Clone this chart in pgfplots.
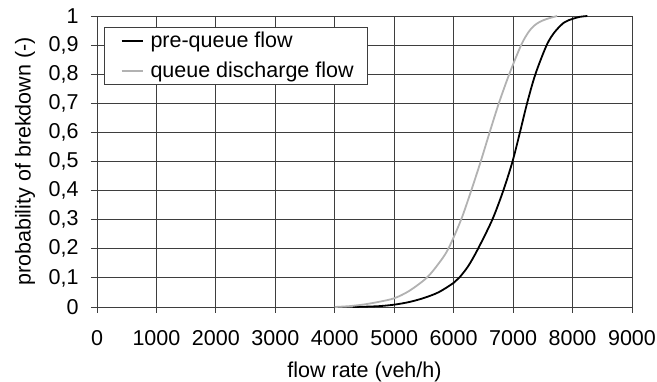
\documentclass[border=0pt]{standalone}
\usepackage{fontspec}
\setmainfont{Liberation Sans}
\usepackage{pgfplots}
\pgfplotsset{compat=1.18}

\definecolor{gridgray}{RGB}{62,62,62}
\definecolor{lightcurve}{RGB}{178,178,178}

\begin{document}
\begin{tikzpicture}[font=\fontsize{21.5}{25}\selectfont]
\path[use as bounding box] (-97pt,-75pt) rectangle (560pt,307pt);
\begin{axis}[
  at={(0pt,0pt)}, anchor=south west,
  scale only axis, width=535pt, height=291pt,
  xmin=0, xmax=9000, ymin=0, ymax=1,
  enlargelimits=false, clip=false,
  xtick={0,1000,2000,3000,4000,5000,6000,7000,8000,9000},
  ytick={0,0.1,0.2,0.3,0.4,0.5,0.6,0.7,0.8,0.9,1},
  scaled ticks=false,
  grid=major,
  grid style={gridgray, line width=0.9pt},
  axis line style={gridgray, line width=0.9pt},
  tick style={gridgray, line width=0.9pt},
  tick align=outside, tick pos=left, major tick length=6pt,
  /pgf/number format/assume math mode=true,
  /pgf/number format/1000 sep={},
  yticklabel style={/pgf/number format/fixed, /pgf/number format/precision=1,
    /pgf/number format/use comma, font=\fontsize{21.5}{25}\selectfont, xshift=-9pt},
  xticklabel style={font=\fontsize{21.5}{25}\selectfont, yshift=-14pt},
  xlabel={flow rate (veh/h)},
  ylabel={probability of brekdown (-)},
  every axis x label/.style={at={(axis description cs:0.5,0)}, anchor=center, yshift=-65pt,
    font=\fontsize{21.5}{25}\selectfont},
  every axis y label/.style={at={(axis description cs:0,0.5)}, xshift=-72pt, rotate=90, anchor=center,
    font=\fontsize{21.5}{25}\selectfont},
  legend style={at={(axis description cs:0.0136,0.963)}, anchor=north west,
    draw=gridgray, line width=0.9pt, fill=white,
    inner xsep=12pt, inner ysep=3pt, row sep=9pt,
    /tikz/every odd column/.append style={column sep=5pt},
    font=\fontsize{21.5}{25}\selectfont},
  legend cell align=left,
  legend image code/.code={\path (0pt,0pt);\draw[#1] (4pt,0pt) -- (25pt,0pt);},
]
% pre-queue flow
\addplot[black, line width=1.8pt, smooth, tension=0.5] coordinates {
  (4300,0) (4500,0.001) (4750,0.003) (5000,0.008) (5250,0.017) (5500,0.031)
  (5750,0.051) (6000,0.083) (6100,0.102) (6250,0.142) (6410,0.2) (6650,0.3)
  (6835,0.4) (6990,0.5) (7115,0.6) (7235,0.7) (7375,0.8) (7565,0.9)
  (7700,0.945) (7860,0.978) (8000,0.99) (8120,0.997) (8250,1)
};
\addlegendentry{pre-queue flow}
% queue discharge flow
\addplot[lightcurve, line width=1.8pt, smooth, tension=0.5] coordinates {
  (4000,0) (4250,0.003) (4500,0.009) (4750,0.018) (5000,0.03) (5250,0.055)
  (5545,0.1) (5750,0.15) (5910,0.2) (6125,0.3) (6295,0.4) (6455,0.5)
  (6605,0.6) (6760,0.7) (6935,0.8) (7135,0.9) (7260,0.945) (7350,0.966)
  (7450,0.98) (7570,0.99) (7740,1)
};
\addlegendentry{queue discharge flow}
\end{axis}
\end{tikzpicture}
\end{document}
